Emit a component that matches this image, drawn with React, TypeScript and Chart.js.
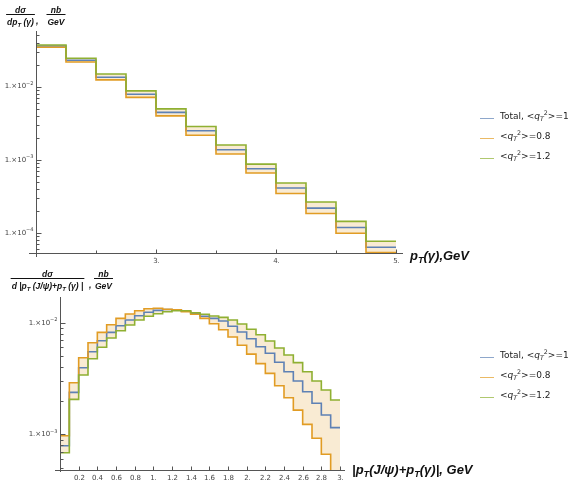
import React, { useEffect, useRef } from "react";
import { Chart, registerables } from "chart.js";
Chart.register(...registerables);

// ---------------- data ----------------
const topEdges = [2, 2.25, 2.5, 2.75, 3, 3.25, 3.5, 3.75, 4, 4.25, 4.5, 4.75, 5];
const topTotal = [0.0359, 0.0229, 0.01343, 0.00788, 0.00445, 0.00249, 0.00137, 7.54e-4, 4.11e-4, 2.19e-4, 1.19e-4, 6.4e-5];
const topLow = [0.0345, 0.02173, 0.01234, 0.00712, 0.00398, 0.00217, 0.0012, 6.59e-4, 3.47e-4, 1.85e-4, 9.9e-5, 5.4e-5];
const topHigh = [0.0371, 0.02441, 0.0149, 0.00874, 0.00496, 0.00285, 0.00159, 8.74e-4, 4.81e-4, 2.65e-4, 1.44e-4, 7.7e-5];
const topXTicks = [2.5, 3, 3.5, 4, 4.5, 5];
const topXTickLabels = ["", "3.", "", "4.", "", "5."];
const topYMajor = [1e-4, 1e-3, 1e-2];
const topYExp = ["\u22124", "\u22123", "\u22122"];

const botEdges = [0, 0.1, 0.2, 0.3, 0.4, 0.5, 0.6, 0.7, 0.8, 0.9, 1.0, 1.1, 1.2, 1.3, 1.4, 1.5, 1.6, 1.7, 1.8, 1.9, 2.0, 2.1, 2.2, 2.3, 2.4, 2.5, 2.6, 2.7, 2.8, 2.9, 3.0];
const botTotal = [7.92e-4, 2.38e-3, 3.95e-3, 5.5e-3, 6.9e-3, 8.2e-3, 9.4e-3, 1.057e-2, 1.155e-2, 1.239e-2, 1.29e-2, 1.312e-2, 1.3e-2, 1.265e-2, 1.214e-2, 1.141e-2, 1.094e-2, 1.035e-2, 9.29e-3, 8.26e-3, 7.19e-3, 6.1e-3, 5.32e-3, 4.42e-3, 3.64e-3, 3.01e-3, 2.41e-3, 1.9e-3, 1.49e-3, 1.15e-3];
const botLow = [9.73e-4, 2.9e-3, 4.86e-3, 6.62e-3, 8.2e-3, 9.6e-3, 1.094e-2, 1.197e-2, 1.28e-2, 1.334e-2, 1.345e-2, 1.318e-2, 1.307e-2, 1.254e-2, 1.19e-2, 1.094e-2, 9.8e-3, 8.65e-3, 7.45e-3, 6.28e-3, 5.23e-3, 4.3e-3, 3.52e-3, 2.73e-3, 2.13e-3, 1.65e-3, 1.23e-3, 9.23e-4, 6.64e-4, 4.0e-4];
const botHigh = [6.86e-4, 2.06e-3, 3.4e-3, 4.76e-3, 6.02e-3, 7.3e-3, 8.48e-3, 9.54e-3, 1.057e-2, 1.141e-2, 1.204e-2, 1.254e-2, 1.28e-2, 1.28e-2, 1.229e-2, 1.19e-2, 1.148e-2, 1.117e-2, 1.057e-2, 9.73e-3, 8.75e-3, 7.81e-3, 6.86e-3, 5.93e-3, 5.14e-3, 4.39e-3, 3.64e-3, 3.01e-3, 2.5e-3, 2.03e-3];
const botXTicks = [0.2, 0.4, 0.6, 0.8, 1.0, 1.2, 1.4, 1.6, 1.8, 2.0, 2.2, 2.4, 2.6, 2.8, 3.0];
const botXTickLabels = ["0.2", "0.4", "0.6", "0.8", "1.", "1.2", "1.4", "1.6", "1.8", "2.", "2.2", "2.4", "2.6", "2.8", "3."];
const botYMajor = [1e-3, 1e-2];
const botYExp = ["\u22123", "\u22122"];

const legendPrefix = ["Total, ", "", ""];
const legendQ = ["1", "0.8", "1.2"];
const seriesColors = ["#5E81B5", "#E19C24", "#8FB032"];
const bandColor = "rgba(225,156,36,0.2)";

// ---------------- drawing helpers ----------------
const SANS = '"DejaVu Sans", sans-serif';
const TITLE = '"Liberation Sans", Arial, sans-serif';
const AXIS = "#555555";

type Part = { t: string; i?: boolean; b?: boolean; s?: number; dy?: number };

function fontOf(p: Part, size: number, family: string) {
  const sz = size * (p.s ?? 1);
  return `${p.i ? "italic " : ""}${p.b ? "bold " : ""}${sz}px ${family}`;
}
function measureParts(ctx: CanvasRenderingContext2D, parts: Part[], size: number, family: string) {
  return parts.map((p) => {
    ctx.font = fontOf(p, size, family);
    return ctx.measureText(p.t).width;
  });
}
function drawParts(ctx: CanvasRenderingContext2D, x: number, y: number, parts: Part[], size: number, family: string, align: "left" | "center" | "right") {
  const ws = measureParts(ctx, parts, size, family);
  const total = ws.reduce((a, b) => a + b, 0);
  let cx = align === "center" ? x - total / 2 : align === "right" ? x - total : x;
  ctx.textAlign = "left";
  parts.forEach((p, k) => {
    ctx.font = fontOf(p, size, family);
    ctx.fillText(p.t, cx, y + (p.dy ?? 0));
    cx += ws[k];
  });
  return total;
}
function drawFrac(ctx: CanvasRenderingContext2D, cx: number, barY: number, num: Part[], den: Part[], size: number, family: string) {
  const wn = measureParts(ctx, num, size, family).reduce((a, b) => a + b, 0);
  const wd = measureParts(ctx, den, size, family).reduce((a, b) => a + b, 0);
  const w = Math.max(wn, wd) + 2;
  ctx.fillRect(cx - w / 2, barY, w, 1);
  ctx.textBaseline = "alphabetic";
  drawParts(ctx, cx, barY - 1.5, num, size, family, "center");
  drawParts(ctx, cx, barY + size + 2.5, den, size, family, "center");
}

const BI = (t: string, extra: Partial<Part> = {}): Part => ({ t, b: true, i: true, ...extra });

type Spec = {
  xTicks: number[];
  xTickLabels: string[];
  yMajor: number[];
  yExp: string[];
  extL: number;
  extR: number;
  extB: number;
  title: Part[];
  titleX: number;
  titleY: number;
  frac1X: number;
  frac2X: number;
  fracY: number;
  den1: Part[];
  commaX: number;
  legendY: number[];
};

function decor(spec: Spec) {
  return {
    id: "decor",
    afterDraw(chart: any) {
      const ctx: CanvasRenderingContext2D = chart.ctx;
      const a = chart.chartArea;
      const xs = chart.scales.x;
      const ys = chart.scales.y;
      ctx.save();
      ctx.strokeStyle = AXIS;
      ctx.lineWidth = 1;
      const yb = Math.round(a.bottom) + 0.5;
      const xl = Math.round(a.left) + 0.5;
      ctx.beginPath();
      ctx.moveTo(a.left - spec.extL, yb);
      ctx.lineTo(a.right + spec.extR, yb);
      ctx.moveTo(xl, a.top - 2);
      ctx.lineTo(xl, a.bottom + spec.extB);
      ctx.stroke();

      // x ticks
      ctx.fillStyle = "#444";
      spec.xTicks.forEach((v, k) => {
        const px = Math.round(xs.getPixelForValue(v)) + 0.5;
        ctx.beginPath();
        ctx.moveTo(px, yb);
        ctx.lineTo(px, yb - (spec.xTickLabels[k] ? 4 : 3));
        ctx.stroke();
        if (spec.xTickLabels[k]) {
          ctx.font = `7px ${SANS}`;
          ctx.textAlign = "center";
          ctx.textBaseline = "middle";
          ctx.fillText(spec.xTickLabels[k], px, yb + 7.5);
        }
      });

      // y ticks (major decades + minor)
      const lo = Math.floor(Math.log10(ys.min));
      const hi = Math.ceil(Math.log10(ys.max));
      for (let d = lo; d <= hi; d++) {
        for (let m = 1; m <= 9; m++) {
          const v = m * Math.pow(10, d);
          if (v < ys.min || v > ys.max) continue;
          const py = Math.round(ys.getPixelForValue(v)) + 0.5;
          ctx.beginPath();
          ctx.moveTo(xl, py);
          ctx.lineTo(xl + (m === 1 ? 5 : 3), py);
          ctx.stroke();
        }
      }
      ctx.textBaseline = "middle";
      spec.yMajor.forEach((v, k) => {
        const py = ys.getPixelForValue(v);
        drawParts(ctx, xl - 3, py, [{ t: "1.\u00d710" }, { t: spec.yExp[k], s: 0.72, dy: -3 }], 7, SANS, "right");
      });

      // axis title
      ctx.fillStyle = "#111";
      ctx.textBaseline = "alphabetic";
      drawParts(ctx, spec.titleX, spec.titleY, spec.title, 13, TITLE, "left");

      // y label as fractions
      ctx.fillStyle = "#111";
      drawFrac(ctx, spec.frac1X, spec.fracY, [BI("d\u03c3")], spec.den1, 8.5, TITLE);
      ctx.font = `bold italic 9px ${TITLE}`;
      ctx.textAlign = "left";
      ctx.fillText(",", spec.commaX, spec.fracY + 10);
      drawFrac(ctx, spec.frac2X, spec.fracY, [BI("nb")], [BI("GeV")], 8.5, TITLE);

      // legend
      ctx.textBaseline = "middle";
      spec.legendY.forEach((ly, k) => {
        ctx.strokeStyle = seriesColors[k];
        ctx.globalAlpha = 0.7;
        ctx.beginPath();
        ctx.moveTo(480, ly + 0.5);
        ctx.lineTo(494, ly + 0.5);
        ctx.stroke();
        ctx.globalAlpha = 1;
        ctx.fillStyle = "#222";
        drawParts(
          ctx,
          500,
          ly - 1,
          [
            { t: legendPrefix[k] + "<" },
            { t: "q", i: true },
            { t: "T", i: true, s: 0.7, dy: 2.5 },
            { t: "2", s: 0.7, dy: -4 },
            { t: ">=" + legendQ[k] },
          ],
          9,
          SANS,
          "left"
        );
      });
      ctx.restore();
    },
  };
}

function stepPoints(edges: number[], vals: number[]) {
  const pts = vals.map((v, k) => ({ x: edges[k], y: v }));
  pts.push({ x: edges[edges.length - 1], y: vals[vals.length - 1] });
  return pts;
}

function makeConfig(
  edges: number[],
  total: number[],
  low: number[],
  high: number[],
  xMin: number,
  xMax: number,
  yMin: number,
  yMax: number,
  padding: { left: number; right: number; top: number; bottom: number },
  spec: Spec
): any {
  const common = { stepped: "before", pointRadius: 0, borderWidth: 1.6, tension: 0 };
  return {
    type: "line",
    data: {
      datasets: [
        { ...common, data: stepPoints(edges, total), borderColor: seriesColors[0], fill: false, order: 2 },
        { ...common, data: stepPoints(edges, low), borderColor: seriesColors[1], fill: { target: 2 }, backgroundColor: bandColor, order: 1 },
        { ...common, data: stepPoints(edges, high), borderColor: seriesColors[2], fill: false, order: 0 },
      ],
    },
    options: {
      responsive: false,
      animation: false,
      devicePixelRatio: 1,
      layout: { padding },
      scales: {
        x: { type: "linear", min: xMin, max: xMax, display: false },
        y: { type: "logarithmic", min: yMin, max: yMax, display: false },
      },
      plugins: {
        legend: { display: false },
        tooltip: { enabled: false },
        filler: { drawTime: "beforeDatasetsDraw" },
      },
      events: [],
    },
    plugins: [decor(spec)],
  };
}

export default function App() {
  const topRef = useRef<HTMLCanvasElement>(null);
  const botRef = useRef<HTMLCanvasElement>(null);

  useEffect(() => {
    const topSpec: Spec = {
      xTicks: topXTicks,
      xTickLabels: topXTickLabels,
      yMajor: topYMajor,
      yExp: topYExp,
      extL: 7,
      extR: 7,
      extB: 4,
      title: [BI("p"), BI("T", { s: 0.7, dy: 3 }), BI("(\u03b3),GeV")],
      titleX: 410,
      titleY: 260,
      frac1X: 20.5,
      frac2X: 56,
      fracY: 14,
      den1: [BI("dp"), BI("T", { s: 0.7, dy: 2 }), BI(" (\u03b3)")],
      commaX: 36,
      legendY: [118, 138, 158],
    };
    const botSpec: Spec = {
      xTicks: botXTicks,
      xTickLabels: botXTickLabels,
      yMajor: botYMajor,
      yExp: botYExp,
      extL: 5,
      extR: 5,
      extB: 2,
      title: [
        BI("|p"),
        BI("T", { s: 0.7, dy: 3 }),
        BI("(J/\u03c8)+p"),
        BI("T", { s: 0.7, dy: 3 }),
        BI("(\u03b3)|, GeV"),
      ],
      titleX: 352,
      titleY: 474 - 268,
      frac1X: 47.5,
      frac2X: 103.5,
      fracY: 278 - 268,
      den1: [
        BI("d |p"),
        BI("T", { s: 0.7, dy: 2 }),
        BI(" (J/\u03c8)+p"),
        BI("T", { s: 0.7, dy: 2 }),
        BI(" (\u03b3) |"),
      ],
      commaX: 89,
      legendY: [357 - 268, 377 - 268, 397 - 268],
    };
    const c1 = new Chart(
      topRef.current as HTMLCanvasElement,
      makeConfig(topEdges, topTotal, topLow, topHigh, 2, 5, 5.33e-5, 0.054, { left: 36, right: 178, top: 33, bottom: 15 }, topSpec)
    );
    const c2 = new Chart(
      botRef.current as HTMLCanvasElement,
      makeConfig(botEdges, botTotal, botLow, botHigh, 0, 3, 4.8e-4, 0.0163, { left: 60, right: 234, top: 31, bottom: 11 }, botSpec)
    );
    return () => {
      c1.destroy();
      c2.destroy();
    };
  }, []);

  return (
    <div style={{ position: "absolute", left: 0, top: 0, width: 574, height: 481, background: "#ffffff" }}>
      <canvas ref={topRef} width={574} height={268} style={{ position: "absolute", left: 0, top: 0 }} />
      <canvas ref={botRef} width={574} height={213} style={{ position: "absolute", left: 0, top: 268 }} />
    </div>
  );
}
